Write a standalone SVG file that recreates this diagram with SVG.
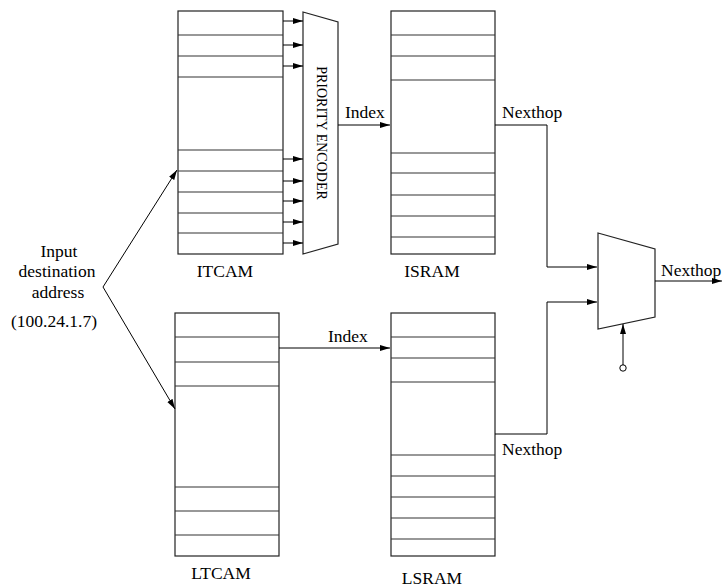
<svg xmlns="http://www.w3.org/2000/svg" width="724" height="587" viewBox="0 0 724 587">
<defs>
<marker id="ah" markerUnits="userSpaceOnUse" markerWidth="12" markerHeight="8" refX="10" refY="4" orient="auto">
<path d="M0,1 L10,4 L0,7 Z" fill="#000"/>
</marker>
<style>
.box{fill:#fff;stroke:#222;stroke-width:1.2}
.row{stroke:#333;stroke-width:1.2}
.ln{fill:none;stroke:#000;stroke-width:1}
.arr{fill:none;stroke:#000;stroke-width:1;marker-end:url(#ah)}
text{font-family:"Liberation Serif","Times New Roman",serif;font-size:17.5px;fill:#000}
.c{text-anchor:middle}
</style>
</defs>
<rect width="724" height="587" fill="#fff"/>

<g id="itcam">
<rect class="box" x="178" y="11" width="105" height="243"/>
<path class="row" d="M178,35H283M178,56H283M178,77H283M178,150H283M178,171H283M178,192H283M178,213H283M178,233H283"/>
<text class="c" x="225" y="277">ITCAM</text>
</g>

<g id="encoder">
<path class="box" d="M303,12 L338,22 L338,244 L303,254 Z"/>
<text class="c" transform="translate(317,133) rotate(90)" style="font-size:14px">PRIORITY ENCODER</text>
</g>

<g id="isram">
<rect class="box" x="391" y="11" width="104" height="243"/>
<path class="row" d="M391,35H495M391,56H495M391,80H495M391,153H495M391,173H495M391,195H495M391,216H495M391,237H495"/>
<text class="c" x="432" y="277">ISRAM</text>
</g>

<g id="ltcam">
<rect class="box" x="175" y="313" width="104" height="243"/>
<path class="row" d="M175,337H279M175,362H279M175,386H279M175,487H279M175,511H279M175,535H279"/>
<text class="c" x="221" y="579">LTCAM</text>
</g>

<g id="lsram">
<rect class="box" x="391" y="313" width="104" height="243"/>
<path class="row" d="M391,337H495M391,358H495M391,382H495M391,455H495M391,476H495M391,497H495M391,518H495M391,539H495"/>
<text class="c" x="432" y="584">LSRAM</text>
</g>

<g id="mux">
<path class="box" d="M598,233 L655,249 L655,317 L598,329 Z"/>
<circle cx="623" cy="368" r="3.2" fill="#fff" stroke="#000" stroke-width="1"/>
</g>

<g id="input">
<text class="c" x="59" y="257">Input</text>
<text class="c" x="57" y="277">destination</text>
<text class="c" x="58" y="298">address</text>
<text class="c" x="54" y="327">(100.24.1.7)</text>
</g>

<g id="connectors">
<path class="arr" d="M283,21H303"/>
<path class="arr" d="M283,45H303"/>
<path class="arr" d="M283,66H303"/>
<path class="arr" d="M283,159H303"/>
<path class="arr" d="M283,181H303"/>
<path class="arr" d="M283,201H303"/>
<path class="arr" d="M283,222H303"/>
<path class="arr" d="M283,243H303"/>
<path class="arr" d="M338,125H390"/>
<text x="345" y="118">Index</text>
<path class="arr" d="M279,348H390"/>
<text x="328" y="342">Index</text>
<path class="arr" d="M103,287L177,170"/>
<path class="arr" d="M103,287L175,409"/>
<path class="arr" d="M495,125H547V267H597"/>
<text x="502" y="118">Nexthop</text>
<path class="arr" d="M495,434H547V302H597"/>
<text x="502" y="455">Nexthop</text>
<path class="arr" d="M655,281H722"/>
<text x="661" y="276">Nexthop</text>
<path class="arr" d="M623,365V324"/>
</g>
</svg>
